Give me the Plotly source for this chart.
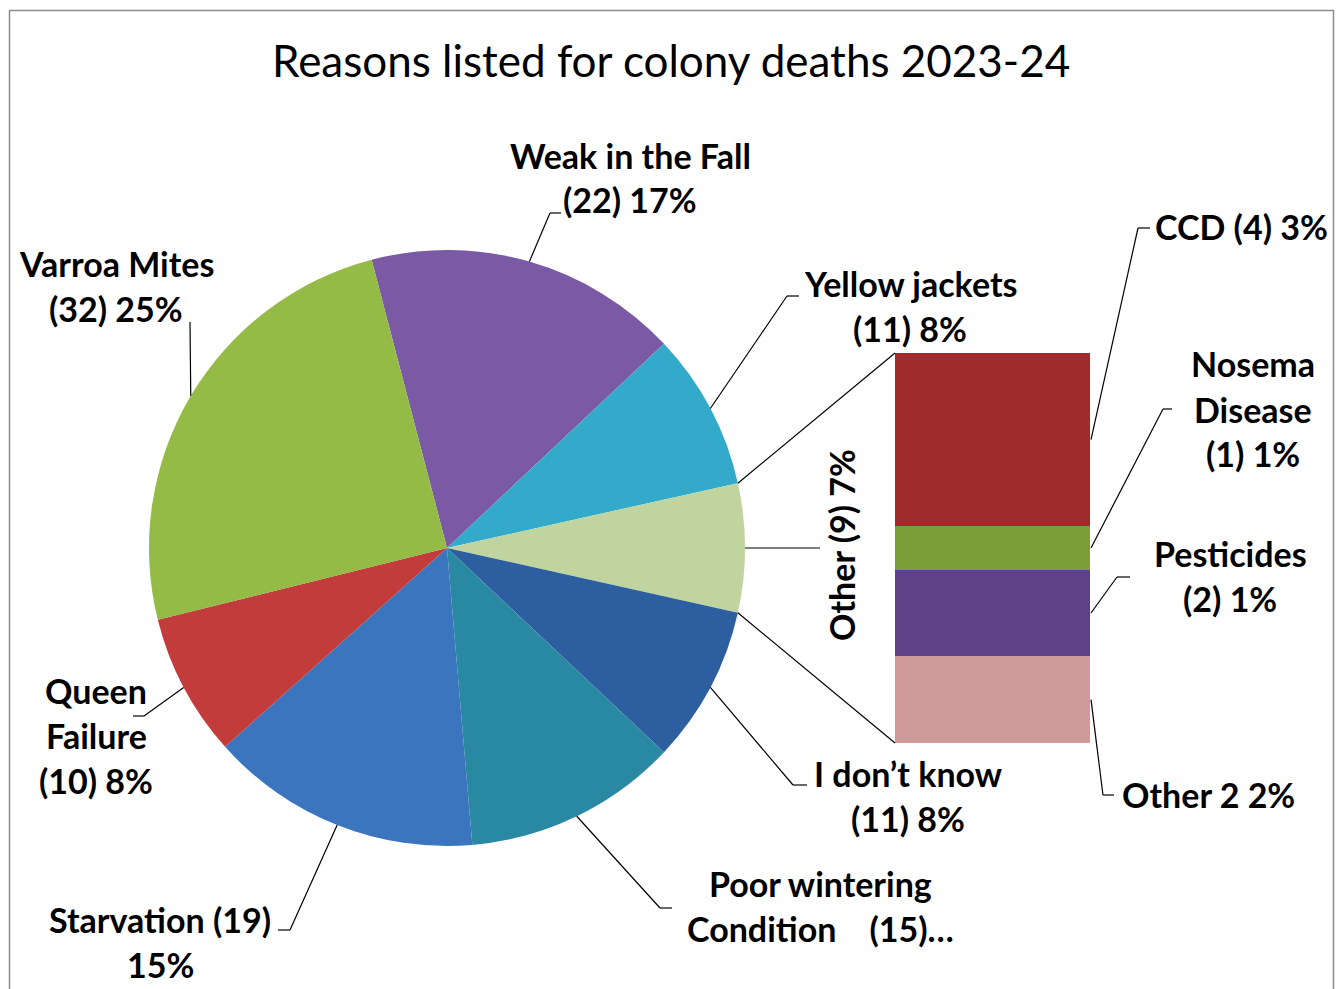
import math
import plotly.graph_objects as go

W, H = 1340, 989

# ---------------- data ----------------
title_text = "Reasons listed for colony deaths 2023-24"

pie_labels = ["Weak in the Fall", "Yellow jackets", "Other", "I don’t know",
              "Poor wintering Condition", "Starvation", "Queen Failure", "Varroa Mites"]
pie_values = [22, 11, 9, 11, 15, 19, 10, 32]
pie_label_lines = [
    ["Weak in the Fall", "(22) 17%"],
    ["Yellow jackets", "(11) 8%"],
    ["Other (9) 7%"],
    ["I don’t know", "(11) 8%"],
    ["Poor wintering", "Condition    (15)…"],
    ["Starvation (19)", "15%"],
    ["Queen", "Failure", "(10) 8%"],
    ["Varroa Mites", "(32) 25%"],
]
split_index = 2  # "Other" slice is broken out into the bar

bar_labels = ["CCD", "Nosema Disease", "Pesticides", "Other 2"]
bar_values = [4, 1, 2, 2]
bar_label_lines = [
    ["CCD (4) 3%"],
    ["Nosema", "Disease", "(1) 1%"],
    ["Pesticides", "(2) 1%"],
    ["Other 2 2%"],
]

# ---------------- styles / layout ----------------
pie_colors = ["#7A5AA4", "#34AACB", "#C0D4A0", "#2D5E9F",
              "#2A89A2", "#3B75BE", "#C23C3B", "#95BB47"]
bar_colors = ["#A02B2C", "#7B9E37", "#5E4285", "#D09A9A"]

FONT = "Lato"
LBL_SIZE = 34
TITLE_SIZE = 44
LINE_GAP = 45
TEXT_DY = -2  # small vertical nudge for all text

pie_cx, pie_cy, pie_r = 447, 548, 298
bar_x0, bar_x1, bar_y0, bar_y1 = 895, 1090, 353, 743  # pixel box (top y0, bottom y1)

# label placement: (text centre x, first line centre y, elbow points from anchor side outward)
pie_label_pos = [
    (630, 157, [(550, 213), (561, 213)]),
    (910, 285, [(787, 296), (799, 296)]),
    (841, 545, [(820, 548)]),
    (908, 775, [(793, 785), (807, 785)]),
    (820, 885, [(660, 908), (672, 908)]),
    (160, 921, [(290, 930), (278, 930)]),
    (96, 692, [(144, 716), (133, 716)]),
    (116, 265, [(190, 322)]),
]
bar_label_pos = [
    (1241, 228, [(1138, 228), (1150, 228)]),
    (1253, 366, [(1163, 409), (1172, 409)]),
    (1230, 555, [(1117, 577), (1130, 577)]),
    (1208, 796, [(1103, 795), (1114, 795)]),
]


def px(x):
    return x / W


def py(y):
    return 1 - y / H


total = sum(pie_values)
deg_per = 360.0 / total
before = sum(pie_values[:split_index])
rotation = 90 - (before + pie_values[split_index] / 2) * deg_per

fig = go.Figure()
fig.add_trace(go.Pie(
    values=pie_values, labels=pie_labels, sort=False, direction="clockwise",
    rotation=rotation, textinfo="none", showlegend=False,
    marker=dict(colors=pie_colors, line=dict(width=0)),
    domain=dict(x=[px(pie_cx - pie_r), px(pie_cx + pie_r)],
                y=[py(pie_cy + pie_r), py(pie_cy - pie_r)]),
    hovertemplate="%{label}: %{value}<extra></extra>",
))

# stacked bar (bottom first)
for lab, val, col in reversed(list(zip(bar_labels, bar_values, bar_colors))):
    fig.add_trace(go.Bar(
        x=[0], y=[val], name=lab, width=1, showlegend=False,
        marker=dict(color=col, line=dict(width=0)),
        xaxis="x", yaxis="y",
        hovertemplate=lab + ": %{y}<extra></extra>",
    ))

bar_total = sum(bar_values)

shapes = []
annotations = []


def line(x0, y0, x1, y1, color="black", width=1.2):
    shapes.append(dict(type="line", xref="paper", yref="paper",
                       x0=px(x0), y0=py(y0), x1=px(x1), y1=py(y1),
                       line=dict(color=color, width=width)))


def polyline(pts):
    for (a, b) in zip(pts[:-1], pts[1:]):
        line(a[0], a[1], b[0], b[1])


def edge_point(angle_deg, r=pie_r):
    a = math.radians(angle_deg)
    return (pie_cx + r * math.sin(a), pie_cy - r * math.cos(a))


def label(tx, ty, text, angle=0):
    annotations.append(dict(x=px(tx), y=py(ty + TEXT_DY), xref="paper", yref="paper",
                            text=text, showarrow=False, textangle=angle,
                            xanchor="center", yanchor="middle",
                            font=dict(family=FONT, size=LBL_SIZE, color="black", weight="bold")))


# pie labels and leaders
cum = 0
angles = []
for v in pie_values:
    start = rotation + cum * deg_per
    end = rotation + (cum + v) * deg_per
    angles.append((start, end))
    cum += v

for i, (lines_, (tx, ty, elbow)) in enumerate(zip(pie_label_lines, pie_label_pos)):
    s, e = angles[i]
    anchor = edge_point((s + e) / 2)
    polyline([anchor] + elbow)
    if i == split_index:
        label(tx, ty - TEXT_DY, lines_[0], angle=-90)
        continue
    for k, t in enumerate(lines_):
        label(tx, ty + k * LINE_GAP, t)

# connectors from split slice to bar
s, e = angles[split_index]
p_top = edge_point(s)
p_bot = edge_point(e)
line(p_top[0], p_top[1], bar_x0, bar_y0)
line(p_bot[0], p_bot[1], bar_x0, bar_y1)

# bar labels and leaders
bar_h = bar_y1 - bar_y0
cum = 0
for lines_, val, (tx, ty, elbow) in zip(bar_label_lines, bar_values, bar_label_pos):
    mid = cum + val / 2
    cum += val
    anchor = (bar_x1 + 1, bar_y0 + mid / bar_total * bar_h)
    polyline([anchor] + elbow)
    for k, t in enumerate(lines_):
        label(tx, ty + k * LINE_GAP, t)

# title
annotations.append(dict(x=px(671), y=py(62 + TEXT_DY), xref="paper", yref="paper", text=title_text,
                        showarrow=False, xanchor="center", yanchor="middle",
                        font=dict(family=FONT, size=TITLE_SIZE, color="black")))

# chart border
shapes.append(dict(type="rect", xref="paper", yref="paper",
                   x0=px(9.5), y0=py(1005), x1=px(1333.5), y1=py(10.5),
                   line=dict(color="#8C8C8C", width=1.5), fillcolor="rgba(0,0,0,0)"))

fig.update_layout(
    width=W, height=H, margin=dict(l=0, r=0, t=0, b=0),
    paper_bgcolor="white", plot_bgcolor="white",
    barmode="stack", bargap=0,
    xaxis=dict(domain=[px(bar_x0), px(bar_x1)], range=[-0.5, 0.5], visible=False, fixedrange=True),
    yaxis=dict(domain=[py(bar_y1), py(bar_y0)], range=[0, bar_total], visible=False, fixedrange=True),
    shapes=shapes, annotations=annotations,
)

fig.write_html("out.html")
